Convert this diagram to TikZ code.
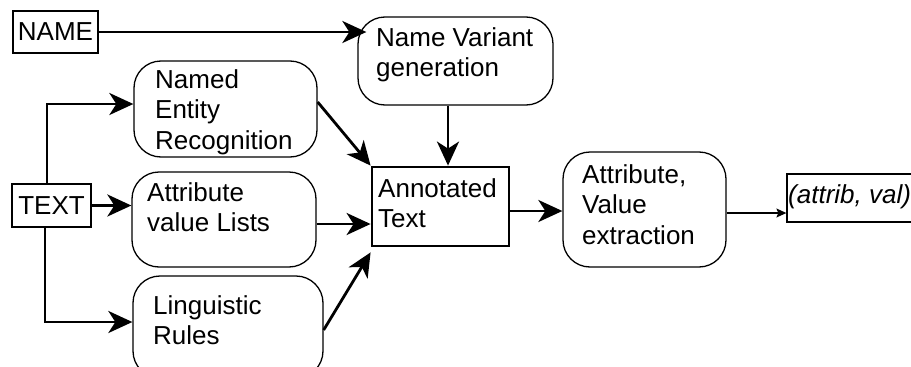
\documentclass[tikz,border=0pt]{standalone}
\usepackage{fontspec}
\setmainfont{Liberation Sans}
\usetikzlibrary{arrows.meta,calc}
\begin{document}
\begin{tikzpicture}[x=1pt,y=-1pt,
  txt/.style={font=\fontsize{26}{30.5}\selectfont, align=left, inner sep=0pt},
  rbox/.style={draw, line width=1.3pt, rounded corners=27pt, inner sep=0pt},
  sbox/.style={draw, line width=1.3pt, inner sep=0pt, font=\fontsize{26}{30.5}\selectfont},
  conn/.style={line width=2.8pt, -{Stealth[length=24pt,width=22pt,inset=7pt]}},
  thinarrow/.style={line width=1.2pt, -{Stealth[length=10pt,width=9pt,inset=2pt]}}
]
\useasboundingbox (0,0) rectangle (911,367);

% plain boxes
\node[sbox, minimum width=85pt, minimum height=42pt] (name) at (55.5,32) {NAME};
\node[sbox, minimum width=79pt, minimum height=43pt] (text) at (51.5,205.5) {TEXT};

% rounded boxes
\node[rbox, minimum width=183pt, minimum height=96pt] (ner) at (225.5,109) {};
\node[rbox, minimum width=195pt, minimum height=88pt] (nv) at (455.5,61) {};
\node[rbox, minimum width=184pt, minimum height=95pt] (avl) at (224,219.5) {};
\node[rbox, minimum width=190pt, minimum height=102pt] (ling) at (228,327) {};
\node[rbox, minimum width=163pt, minimum height=115pt] (ave) at (644.5,209.5) {};

% annotated text box
\node[draw, line width=2.8pt, minimum width=137pt, minimum height=79pt, inner sep=0pt] (annot) at (440.5,206.5) {};

% output box
\node[draw, line width=1.3pt, minimum width=140pt, minimum height=48pt, inner sep=0pt] (out) at (857,198) {};

% texts
\node[txt, anchor=north west] (nert) at (155,69) {Named\\Entity\\Recognition};
\node[txt, anchor=north west] (nvt) at (376,27) {Name Variant\\generation};
\node[txt, anchor=north west] (avlt) at (147,182) {Attribute\\value Lists};
\node[txt, anchor=north west] (lingt) at (153,295) {Linguistic\\Rules};
\node[txt, anchor=north west] (avet) at (582,164) {Attribute,\\Value\\extraction};
\node[txt, anchor=north west] (annott) at (378,178) {Annotated\\Text};
\node[txt, anchor=west, font=\fontsize{26}{30.5}\selectfont\itshape] (outt) at (788,197) {(attrib, val)};

% connectors
\draw[conn] (name.east) -- ([xshift=9pt]name.east -| nv.west);
\draw[conn] ([xshift=-4.5pt]text.north) |- ([yshift=5pt]ner.west);
\draw[conn] (text.east) -- (text.east -| avl.west);
\draw[conn] ([xshift=-6.5pt]text.south) |- ([yshift=5pt]ling.west);
\draw[conn] ([yshift=7pt]ner.east) -- (annot.north west);
\draw[conn] ([yshift=-4.5pt]avl.east) -- ([yshift=-4.5pt]avl.east -| annot.west);
\draw[conn] ([yshift=-3pt]ling.east) -- ([yshift=-5pt]annot.south west);
\coordinate (nvs) at ([xshift=-7.5pt]nv.south);
\draw[conn] (nvs) -- (nvs |- annot.north);
\draw[conn] ([yshift=-4.5pt]annot.east) -- ([yshift=-4.5pt]annot.east -| ave.west);
\draw[thinarrow] ([yshift=-3.5pt]ave.east) -- ([yshift=-3.5pt]ave.east -| out.west);
\end{tikzpicture}
\end{document}
